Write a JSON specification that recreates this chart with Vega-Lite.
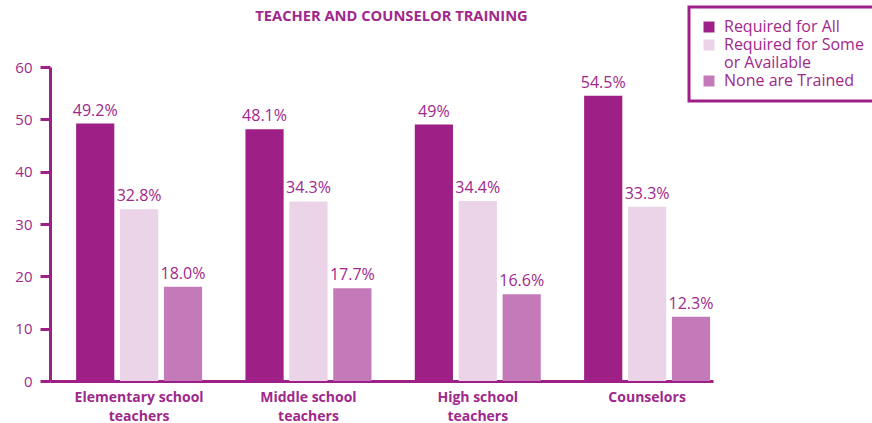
{
  "$schema": "https://vega.github.io/schema/vega-lite/v6.json",
  "width": 663,
  "height": 314,
  "autosize": {"type": "none"},
  "padding": {"left": 50, "top": 67, "right": 159, "bottom": 42},
  "background": "white",
  "title": {
    "text": "TEACHER AND COUNSELOR TRAINING",
    "font": "Open Sans",
    "fontSize": 14.7,
    "fontWeight": "bold",
    "color": "#A0288C",
    "anchor": "middle",
    "baseline": "bottom",
    "dx": 10,
    "offset": -33
  },
  "data": {
    "values": [
      {"group": "Elementary school teachers", "category": "Required for All", "value": 49.2, "label": "49.2%"},
      {"group": "Elementary school teachers", "category": "Required for Some or Available", "value": 32.8, "label": "32.8%"},
      {"group": "Elementary school teachers", "category": "None are Trained", "value": 18.0, "label": "18.0%"},
      {"group": "Middle school teachers", "category": "Required for All", "value": 48.1, "label": "48.1%"},
      {"group": "Middle school teachers", "category": "Required for Some or Available", "value": 34.3, "label": "34.3%"},
      {"group": "Middle school teachers", "category": "None are Trained", "value": 17.7, "label": "17.7%"},
      {"group": "High school teachers", "category": "Required for All", "value": 49.0, "label": "49%"},
      {"group": "High school teachers", "category": "Required for Some or Available", "value": 34.4, "label": "34.4%"},
      {"group": "High school teachers", "category": "None are Trained", "value": 16.6, "label": "16.6%"},
      {"group": "Counselors", "category": "Required for All", "value": 54.5, "label": "54.5%"},
      {"group": "Counselors", "category": "Required for Some or Available", "value": 33.3, "label": "33.3%"},
      {"group": "Counselors", "category": "None are Trained", "value": 12.3, "label": "12.3%"}
    ]
  },
  "encoding": {
    "x": {
      "field": "group",
      "type": "nominal",
      "sort": ["Elementary school teachers", "Middle school teachers", "High school teachers", "Counselors"],
      "scale": {"paddingInner": 0.256, "paddingOuter": 0.0857, "align": 0.9},
      "axis": {
        "title": null,
        "labelAngle": 0,
        "ticks": false,
        "domainColor": "#9E2087",
        "domainWidth": 3,
        "labelFont": "Open Sans",
        "labelFontSize": 14,
        "labelFontWeight": "bold",
        "labelColor": "#A0288C",
        "labelPadding": 9,
        "labelBaseline": "top",
        "labelLineHeight": 19,
        "labelExpr": "datum.value == 'Counselors' ? 'Counselors' : [replace(datum.value, ' teachers', ''), 'teachers']"
      }
    },
    "xOffset": {
      "field": "category",
      "type": "nominal",
      "sort": ["Required for All", "Required for Some or Available", "None are Trained"],
      "scale": {"paddingInner": 0.13, "paddingOuter": 0}
    },
    "y": {
      "field": "value",
      "type": "quantitative",
      "scale": {"domain": [0, 60], "nice": false},
      "axis": {
        "title": null,
        "values": [0, 10, 20, 30, 40, 50, 60],
        "grid": false,
        "domainColor": "#9E2087",
        "domainWidth": 3,
        "tickColor": "#9E2087",
        "tickWidth": 3,
        "tickSize": 10,
        "labelFont": "Open Sans",
        "labelFontSize": 15,
        "labelColor": "#A0288C",
        "labelPadding": 8
      }
    }
  },
  "layer": [
    {
      "mark": {"type": "bar"},
      "encoding": {
        "color": {
          "field": "category",
          "type": "nominal",
          "sort": ["Required for All", "Required for Some or Available", "None are Trained"],
          "scale": {
            "domain": ["Required for All", "Required for Some or Available", "None are Trained"],
            "range": ["#9E2087", "#EBD3E8", "#C47AB8"]
          },
          "legend": {
            "title": null,
            "orient": "none",
            "legendX": 639,
            "legendY": -60,
            "strokeColor": "#9E2087",
            "fillColor": "white",
            "padding": 12,
            "symbolType": "square",
            "symbolSize": 121,
            "symbolStrokeWidth": 0,
            "labelFont": "Open Sans",
            "labelFontSize": 16,
            "labelColor": "#A0288C",
            "labelOffset": 7,
            "labelLimit": 300,
            "rowPadding": 2,
            "labelExpr": "datum.label == 'Required for Some or Available' ? ['Required for Some', 'or Available'] : datum.label"
          }
        }
      }
    },
    {
      "mark": {"type": "text", "baseline": "bottom", "dy": -5, "font": "Open Sans", "fontSize": 16, "color": "#A0288C"},
      "encoding": {"text": {"field": "label"}}
    }
  ],
  "config": {
    "view": {"stroke": null},
    "legend": {"strokeWidth": 3}
  }
}
